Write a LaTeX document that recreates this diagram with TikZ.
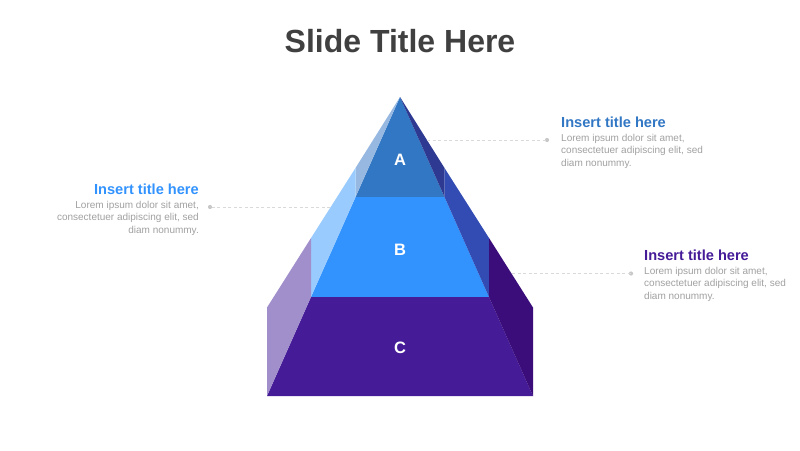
\documentclass[tikz,border=0pt]{standalone}
\usepackage{fontspec}
\setmainfont{Liberation Sans}
\definecolor{aF}{HTML}{3277C4}
\definecolor{aL}{HTML}{97B9E1}
\definecolor{aR}{HTML}{2E3A92}
\definecolor{bF}{HTML}{3293FF}
\definecolor{bL}{HTML}{99CBFF}
\definecolor{bR}{HTML}{334CB3}
\definecolor{cF}{HTML}{451B98}
\definecolor{cL}{HTML}{A18FCC}
\definecolor{cR}{HTML}{3A0D7A}
\definecolor{titlegray}{HTML}{404040}
\definecolor{bodygray}{HTML}{A0A0A0}
\definecolor{dashgray}{HTML}{D9D9D9}
\definecolor{dotgray}{HTML}{C8C8C8}
\tikzset{
  heading/.style={inner sep=0pt, font=\fontsize{14.6}{16}\selectfont\bfseries},
  bodytext/.style={inner sep=0pt, text=bodygray, font=\fontsize{10}{12.5}\selectfont},
  letter/.style={text=white, font=\fontsize{16.5}{18}\selectfont\bfseries},
  leader/.style={dashgray, line width=0.7pt, dash pattern=on 3pt off 2.5pt},
  leaderdot/.style={circle, fill=dotgray, inner sep=0pt, minimum size=4.2pt},
}
\begin{document}
\begin{tikzpicture}[x=1pt,y=-1pt]
\useasboundingbox (0,0) rectangle (800,450);
% key points
\coordinate (P) at (400,97);
\coordinate (L1) at (355.5,168);
\coordinate (L2) at (311,238);
\coordinate (L3) at (267,307.5);
\coordinate (BL) at (267,396);
\coordinate (F1) at (355.5,197);
\coordinate (F2) at (311,297);
\coordinate (R1) at (444.5,168);
\coordinate (R2) at (489,238);
\coordinate (R3) at (533,307.5);
\coordinate (BR) at (533,396);
\coordinate (G1) at (444.5,197);
\coordinate (G2) at (489,297);
% faces
\fill[aF] (P) -- (F1) -- (G1) -- cycle;
\fill[aL] (P) -- (L1) -- (F1) -- cycle;
\fill[aR] (P) -- (R1) -- (G1) -- cycle;
\fill[bF] (F1) -- (F2) -- (G2) -- (G1) -- cycle;
\fill[bL] (L1) -- (L2) -- (F2) -- (F1) -- cycle;
\fill[bR] (R1) -- (R2) -- (G2) -- (G1) -- cycle;
\fill[cF] (F2) -- (BL) -- (BR) -- (G2) -- cycle;
\fill[cL] (L2) -- (L3) -- (BL) -- (F2) -- cycle;
\fill[cR] (R2) -- (R3) -- (BR) -- (G2) -- cycle;
% letters
\node[letter] (la) at (400,160) {A};
\node[letter] (lb) at (400,250) {B};
\node[letter] (lc) at (400,348) {C};
% title
\node[text=titlegray, font=\fontsize{32}{36}\selectfont\bfseries, anchor=base] (title) at (400,52) {Slide Title Here};
% leaders
\coordinate (e1) at (427,140);
\node[leaderdot] (d1) at (547,140) {};
\draw[leader] (e1) -- (d1.center);
\coordinate (e2) at (330,207);
\node[leaderdot] (d2) at (210,207) {};
\draw[leader] (e2) -- (d2.center);
\coordinate (e3) at (512,273.5);
\node[leaderdot] (d3) at (631,273.5) {};
\draw[leader] (e3) -- (d3.center);
% text blocks
\node[heading, text=aF, anchor=base west] (h1) at (561,127.5) {Insert title here};
\node[bodytext, anchor=north west, align=left] (t1) at (561,133.8) {Lorem ipsum dolor sit amet,\\consectetuer adipiscing elit, sed\\diam nonummy.};
\node[heading, text=bF, anchor=base east] (h2) at (199,194.3) {Insert title here};
\node[bodytext, anchor=north east, align=right] (t2) at (199,200.8) {Lorem ipsum dolor sit amet,\\consectetuer adipiscing elit, sed\\diam nonummy.};
\node[heading, text=cF, anchor=base west] (h3) at (644,260.7) {Insert title here};
\node[bodytext, anchor=north west, align=left] (t3) at (644,267) {Lorem ipsum dolor sit amet,\\consectetuer adipiscing elit, sed\\diam nonummy.};
\end{tikzpicture}
\end{document}
